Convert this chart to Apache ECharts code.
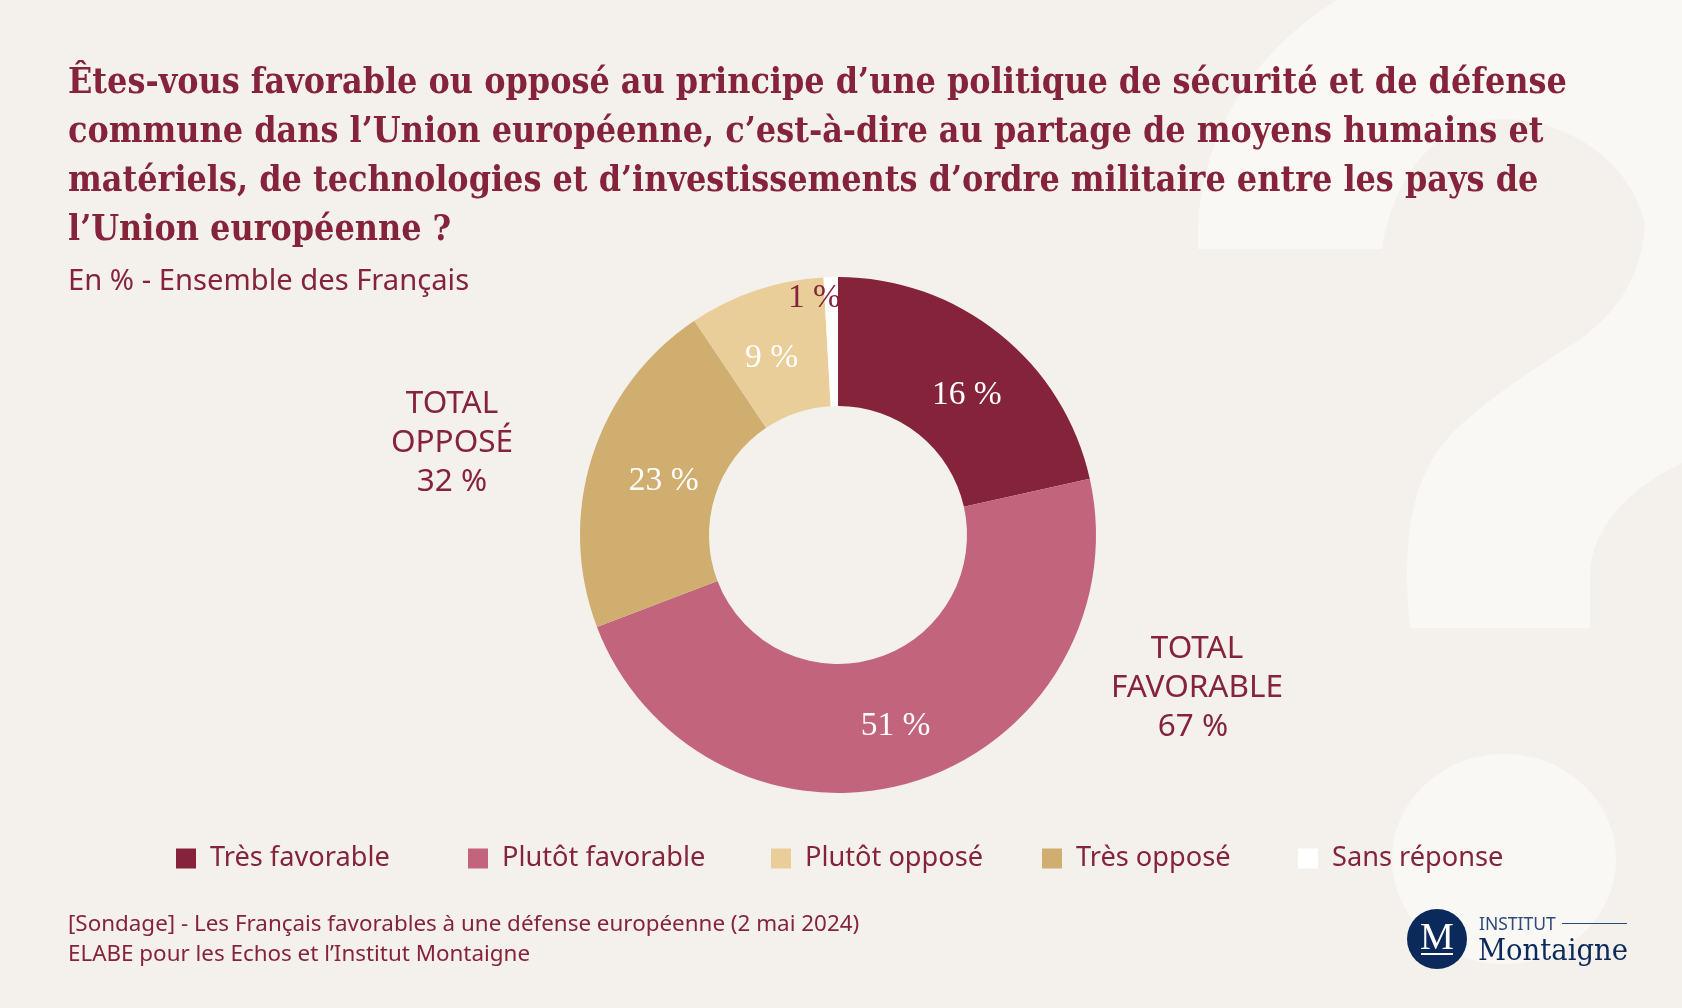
<!DOCTYPE html>
<html>
<head>
<meta charset="utf-8">
<title>Politique de sécurité et de défense commune</title>
<style>
	html, body { margin: 0; padding: 0; background: #f4f1ec; }
	#chart { width: 1682px; height: 1008px; }
</style>
<script src="https://cdn.jsdelivr.net/npm/echarts@6/dist/echarts.min.js"></script>
</head>
<body>
<div id="chart"></div>
<script>
var categories = ['Très favorable', 'Plutôt favorable', 'Très opposé', 'Plutôt opposé', 'Sans réponse'];
// arcs as measured on the picture: the printed figures below do not match them
var arcShares = [21.5, 47.7, 21.4, 8.5, 0.9];
var printedPercents = [16, 51, 23, 9, 1];
var legendOrder = ['Très favorable', 'Plutôt favorable', 'Plutôt opposé', 'Très opposé', 'Sans réponse'];
var totalOppose = 'TOTAL\nOPPOSÉ\n32 %';
var totalFavorable = 'TOTAL\nFAVORABLE\n67 % ';
var titleText = 'Êtes-vous favorable ou opposé au principe d’une politique de sécurité et de défense\n' +
	'commune dans l’Union européenne, c’est-à-dire au partage de moyens humains et\n' +
	'matériels, de technologies et d’investissements d’ordre militaire entre les pays de\n' +
	'l’Union européenne ?';
var subtitleText = 'En % - Ensemble des Français';
var sourceText = '[Sondage] - Les Français favorables à une défense européenne (2 mai 2024)\n' +
	'ELABE pour les Echos et l’Institut Montaigne';

var sliceColors = ['#85233a', '#c2657c', '#cfae70', '#e9ce9a', '#ffffff'];
var labelColors = ['#ffffff', '#ffffff', '#ffffff', '#ffffff', '#85233a'];
var labelNudge = [[6, 14], [1, 3], [13, 6], [-4, 10], [-18, -40]];
var legendLefts = [176, 468, 771, 1042, 1298];

var wine = '#85233a';
var navy = '#0b2a5b';
var ghost = '#f9f8f5';
var sans = '"Noto Sans", sans-serif';
var serif = '"Liberation Serif", serif';
var titleSerif = '"DejaVu Serif Condensed", "DejaVu Serif", serif';

var markPath = 'M1198 249 L1198 231 C1200 150 1240 60 1337 0 L1682 0 L1682 463 C1650 478 1590 515 1590 579 L1590 628 L1410 628 C1404 560 1405 500 1438 450 C1465 415 1510 385 1557 354 C1590 335 1640 300 1645 225 C1635 170 1575 119 1503 119 C1440 119 1395 170 1382 249 Z';

var chart = echarts.init(document.getElementById('chart'));

chart.setOption({
	animation: false,
	backgroundColor: '#f4f1ec',
	title: [{
		text: titleText,
		left: 68,
		top: 59,
		padding: 0,
		textStyle: { color: wine, fontFamily: titleSerif, fontWeight: 'bold', fontSize: 35.5, lineHeight: 49 }
	}, {
		text: subtitleText,
		left: 68,
		top: 264,
		padding: 0,
		textStyle: { color: wine, fontFamily: sans, fontWeight: 'normal', fontSize: 29.2, lineHeight: 36 }
	}, {
		text: sourceText,
		left: 68,
		top: 910,
		padding: 0,
		textStyle: { color: wine, fontFamily: sans, fontWeight: 'normal', fontSize: 22.4, lineHeight: 30 }
	}],
	legend: legendOrder.map(function(name, i) {
		return {
			data: [name],
			left: legendLefts[i],
			top: 845,
			padding: 0,
			icon: 'rect',
			itemWidth: 20,
			itemHeight: 20,
			itemGap: 0,
			selectedMode: false,
			textStyle: { color: wine, fontFamily: sans, fontSize: 27.2, padding: [10, 0, 0, 9] }
		};
	}),
	graphic: [
		// totals
		{ type: 'text', z: 20, x: 452, y: 385, style: { text: totalOppose, fill: wine, font: '31.5px ' + sans, lineHeight: 39, align: 'center' } },
		{ type: 'text', z: 20, x: 1197, y: 630, style: { text: totalFavorable, fill: wine, font: '31.5px ' + sans, lineHeight: 39, align: 'center' } },
		// logo
		{ type: 'circle', z: 20, shape: { cx: 1437, cy: 939, r: 30 }, style: { fill: navy } },
		{ type: 'text', z: 21, x: 1437, y: 920, style: { text: 'M', fill: '#ffffff', font: '38px ' + serif, align: 'center' } },
		{ type: 'rect', z: 21, shape: { x: 1421, y: 953, width: 32, height: 2 }, style: { fill: '#ffffff' } },
		{ type: 'text', z: 20, x: 1479, y: 916, style: { text: 'INSTITUT', fill: '#2e4a7a', font: '17.5px ' + sans } },
		{ type: 'rect', z: 20, shape: { x: 1562, y: 923, width: 65, height: 1 }, style: { fill: '#2e4a7a' } },
		{ type: 'text', z: 20, x: 1478, y: 937, style: { text: 'Montaigne', fill: navy, font: '30.5px ' + titleSerif } }
	],
	series: [{
		// question mark behind everything
		type: 'custom',
		silent: true,
		z: 0,
		coordinateSystem: 'none',
		data: [0],
		renderItem: function() {
			return {
				type: 'group',
				children: [{
					type: 'path',
					shape: { pathData: markPath, x: 1198, y: 0, width: 484, height: 628, layout: 'cover' },
					style: { fill: ghost }
				}, {
					type: 'ellipse',
					shape: { cx: 1504, cy: 859, rx: 112, ry: 105 },
					style: { fill: ghost }
				}]
			};
		}
	}, {
		type: 'pie',
		silent: true,
		z: 2,
		center: [838, 535],
		radius: [129, 258],
		startAngle: 90,
		clockwise: true,
		avoidLabelOverlap: false,
		itemStyle: { borderWidth: 0 },
		label: {
			position: 'inside',
			fontFamily: serif,
			fontSize: 33.5,
			formatter: function(p) { return printedPercents[p.dataIndex] + ' %'; }
		},
		labelLine: { show: false },
		labelLayout: function(p) {
			return { dx: labelNudge[p.dataIndex][0], dy: labelNudge[p.dataIndex][1] };
		},
		data: categories.map(function(name, i) {
			return {
				name: name,
				value: arcShares[i],
				itemStyle: { color: sliceColors[i] },
				label: { color: labelColors[i] }
			};
		})
	}]
});
</script>
</body>
</html>
